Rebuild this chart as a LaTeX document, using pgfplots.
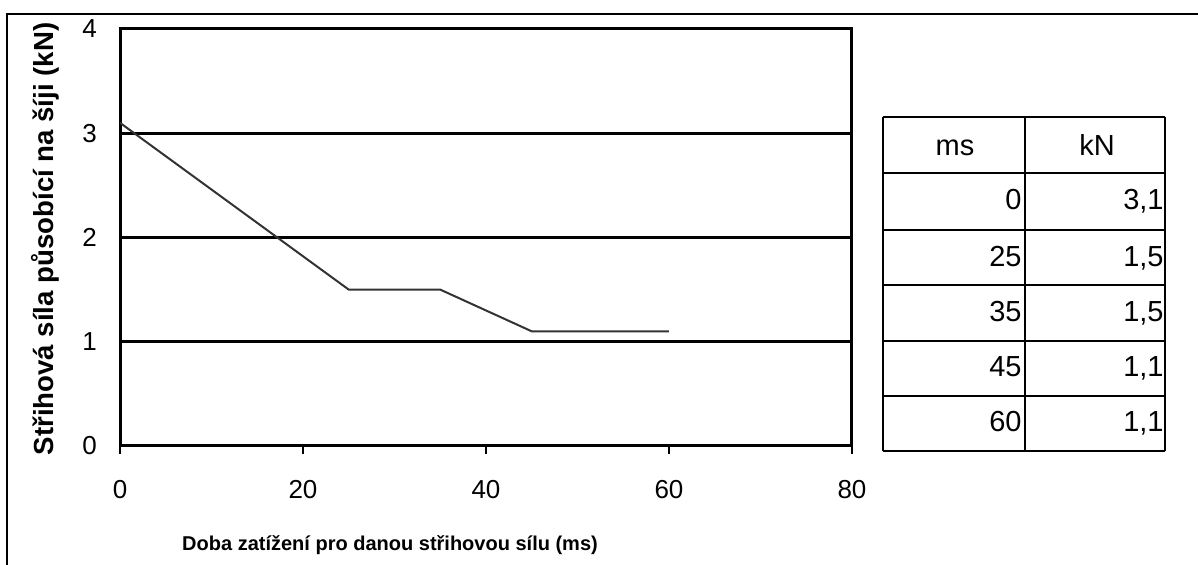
\documentclass[border=0pt]{standalone}
\usepackage{pgfplots}
\pgfplotsset{compat=1.18}
\usepackage{fontspec}
\setmainfont{Liberation Sans}
\begin{document}
\begin{tikzpicture}[x=0.5pt,y=0.5pt]
\path[use as bounding box] (0,0) rectangle (1198,565);
\draw[line width=1pt] (7,-1) -- (7,551) -- (1199,551);
\coordinate (A) at (120,119);
\begin{axis}[
  at={(A)}, anchor=origin,
  scale only axis, width=366pt, height=208.5pt,
  xmin=0, xmax=80, ymin=0, ymax=4,
  xtick={0,20,40,60,80}, ytick={0,1,2,3,4},
  xtick pos=bottom, ytick pos=left,
  ymajorgrids, grid style={black, line width=1.5pt},
  axis line style={line width=1.5pt},
  tick align=outside, xtick style={black, line width=1pt},
  major tick length=4pt,
  ytick style={draw=none},
  /pgf/number format/assume math mode=true,
  tick label style={font=\fontsize{13}{15}\selectfont},
  xticklabel style={anchor=north, yshift=-9.5pt},
  yticklabel style={anchor=east, xshift=-4pt},
]
\addplot[color=black!80, line width=1pt] coordinates {(0,3.1) (25,1.5) (35,1.5) (45,1.1) (60,1.1)};
\end{axis}
\node[font=\bfseries\fontsize{10}{12}\selectfont] at (390,20) {Doba zatížení pro danou střihovou sílu (ms)};
\node[rotate=90, font=\bfseries\fontsize{13.8}{15}\selectfont] at (45,326) {Střihová síla působící na šíji (kN)};
% table
\foreach \yy in {448,392,335,280,224,169,114} \draw[line width=1pt] (883,\yy) -- (1165,\yy);
\foreach \xx in {883,1025,1165} \draw[line width=1pt] (\xx,448) -- (\xx,114);
\begin{scope}[every node/.style={font=\fontsize{14.5}{16}\selectfont, inner sep=0pt}]
\node[anchor=base] at (955,409) {ms};
\node[anchor=base] at (1097,409) {kN};
\node[anchor=base east] at (1022,355) {0};
\node[anchor=base east] at (1022,298) {25};
\node[anchor=base east] at (1022,243) {35};
\node[anchor=base east] at (1022,188) {45};
\node[anchor=base east] at (1022,133) {60};
\node[anchor=base east] at (1164,355) {3,1};
\node[anchor=base east] at (1164,298) {1,5};
\node[anchor=base east] at (1164,243) {1,5};
\node[anchor=base east] at (1164,188) {1,1};
\node[anchor=base east] at (1164,133) {1,1};
\end{scope}
\end{tikzpicture}
\end{document}
